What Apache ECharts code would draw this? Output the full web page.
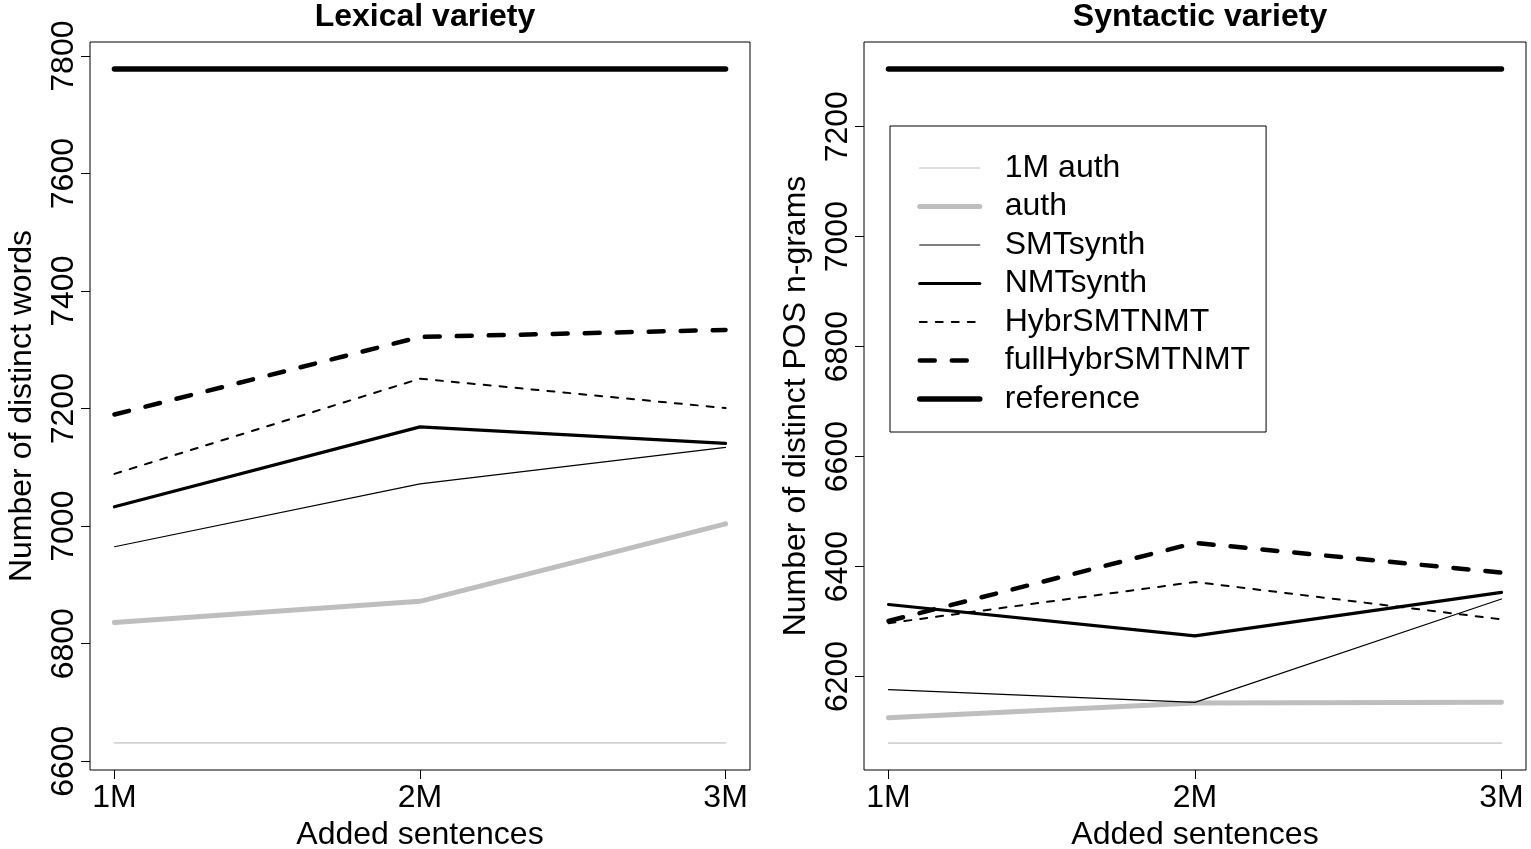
<!DOCTYPE html>
<html>
<head>
<meta charset="utf-8">
<script src="https://cdn.jsdelivr.net/npm/echarts@6/dist/echarts.min.js"></script>
<style>
html,body{margin:0;padding:0;background:#fff;}
#chart{width:1531px;height:849px;}
</style>
</head>
<body>
<div id="chart"></div>
<script>
// ---- data ----
const xPositions = [1, 2, 3];
const xTickLabels = ['1M', '2M', '3M'];
const seriesNames = ['1M auth', 'auth', 'SMTsynth', 'NMTsynth', 'HybrSMTNMT', 'fullHybrSMTNMT', 'reference'];

// Lexical variety (number of distinct words)
const lexAuth1M   = [6631, 6631, 6631];
const lexAuth     = [6836, 6872, 7004];
const lexSMT      = [6965, 7072, 7134];
const lexNMT      = [7033, 7169, 7141];
const lexHybr     = [7089, 7251, 7201];
const lexFullHybr = [7190, 7322, 7334];
const lexRef      = [7778, 7778, 7778];
const lexTicks    = [6600, 6800, 7000, 7200, 7400, 7600, 7800];

// Syntactic variety (number of distinct POS n-grams)
const synAuth1M   = [6079, 6079, 6079];
const synAuth     = [6125, 6152, 6153];
const synSMT      = [6176, 6153, 6341];
const synNMT      = [6331, 6274, 6353];
const synHybr     = [6297, 6372, 6304];
const synFullHybr = [6301, 6443, 6389];
const synRef      = [7305, 7305, 7305];
const synTicks    = [6200, 6400, 6600, 6800, 7000, 7200];

// ---- styling ----
const FONT = '"Liberation Sans", Arial, Helvetica, sans-serif';
const styles = [
  {color: '#d3d3d3', width: 1.7, type: 'solid'},
  {color: '#bebebe', width: 5,   type: 'solid'},
  {color: '#000000', width: 1.2, type: 'solid'},
  {color: '#000000', width: 3.2, type: 'solid'},
  {color: '#000000', width: 2,   type: [7, 9]},
  {color: '#000000', width: 4.5, type: [15, 17]},
  {color: '#000000', width: 5.5, type: 'solid'}
];

function pairs(vals) { return xPositions.map((x, i) => [x, vals[i]]); }

function makeSeries(sets, idx) {
  return sets.map((vals, k) => ({
    name: seriesNames[k],
    type: 'line',
    xAxisIndex: idx,
    yAxisIndex: idx,
    data: pairs(vals),
    symbol: 'none',
    silent: true,
    lineStyle: {color: styles[k].color, width: styles[k].width, type: styles[k].type, cap: 'round', join: 'round'},
    itemStyle: {color: styles[k].color},
    z: 2 + k
  }));
}

function xAxisDef(idx) {
  return {
    gridIndex: idx, type: 'value', min: 0.92, max: 3.08,
    name: 'Added sentences', nameLocation: 'middle', nameGap: 47,
    nameTextStyle: {fontFamily: FONT, fontSize: 32, color: '#000'},
    axisLine: {show: false},
    axisTick: {show: true, inside: false, length: 9, customValues: xPositions, lineStyle: {color: '#000', width: 1}},
    axisLabel: {show: true, margin: 12, fontFamily: FONT, fontSize: 32, color: '#000', customValues: xPositions,
      formatter: v => xTickLabels[xPositions.indexOf(Math.round(v))] || ''},
    splitLine: {show: false}
  };
}

function yAxisDef(idx, min, max, ticks, name) {
  return {
    gridIndex: idx, type: 'value', min: min, max: max,
    name: name, nameLocation: 'middle', nameGap: 52, nameRotate: 90,
    nameTextStyle: {fontFamily: FONT, fontSize: 32, color: '#000'},
    axisLine: {show: false},
    axisTick: {show: true, inside: false, length: 9, customValues: ticks, lineStyle: {color: '#000', width: 1}},
    axisLabel: {show: true, rotate: 90, margin: 10, fontFamily: FONT, fontSize: 32, color: '#000', customValues: ticks,
      formatter: v => String(Math.round(v))},
    splitLine: {show: false}
  };
}

const chart = echarts.init(document.getElementById('chart'), null, {renderer: 'canvas'});
const option = {
  backgroundColor: '#ffffff',
  animation: false,
  title: [
    {text: 'Lexical variety', left: 420, top: -4, textAlign: 'center',
      textStyle: {fontFamily: FONT, fontSize: 32, fontWeight: 'bold', color: '#000'}},
    {text: 'Syntactic variety', left: 1195, top: -4, textAlign: 'center',
      textStyle: {fontFamily: FONT, fontSize: 32, fontWeight: 'bold', color: '#000'}}
  ],
  grid: [
    {left: 90, top: 42, width: 660, height: 728, show: true, borderColor: '#000', borderWidth: 1,
      backgroundColor: 'transparent', containLabel: false, outerBoundsMode: 'none'},
    {left: 864, top: 42, width: 662, height: 728, show: true, borderColor: '#000', borderWidth: 1,
      backgroundColor: 'transparent', containLabel: false, outerBoundsMode: 'none'}
  ],
  xAxis: [xAxisDef(0), xAxisDef(1)],
  yAxis: [
    yAxisDef(0, 6585, 7824, lexTicks, 'Number of distinct words'),
    yAxisDef(1, 6030, 7354, synTicks, 'Number of distinct POS n-grams')
  ],
  legend: {
    show: true, orient: 'vertical', left: 890, top: 126,
    selectedMode: false,
    backgroundColor: '#fff',
    borderColor: '#000', borderWidth: 1,
    padding: [26, 16, 17, 27],
    itemWidth: 60, itemHeight: 14, itemGap: 6.5,
    textStyle: {fontFamily: FONT, fontSize: 32, color: '#000', lineHeight: 32, padding: [0, 0, 0, 20]},
    data: seriesNames.map((n, k) => ({
      name: n,
      itemStyle: {opacity: 0},
      lineStyle: {width: styles[k].width, color: styles[k].color, type: styles[k].type, cap: 'round'}
    })),
    z: 20
  },
  series: makeSeries([lexAuth1M, lexAuth, lexSMT, lexNMT, lexHybr, lexFullHybr, lexRef], 0)
    .concat(makeSeries([synAuth1M, synAuth, synSMT, synNMT, synHybr, synFullHybr, synRef], 1))
};
chart.setOption(option);
</script>
</body>
</html>
